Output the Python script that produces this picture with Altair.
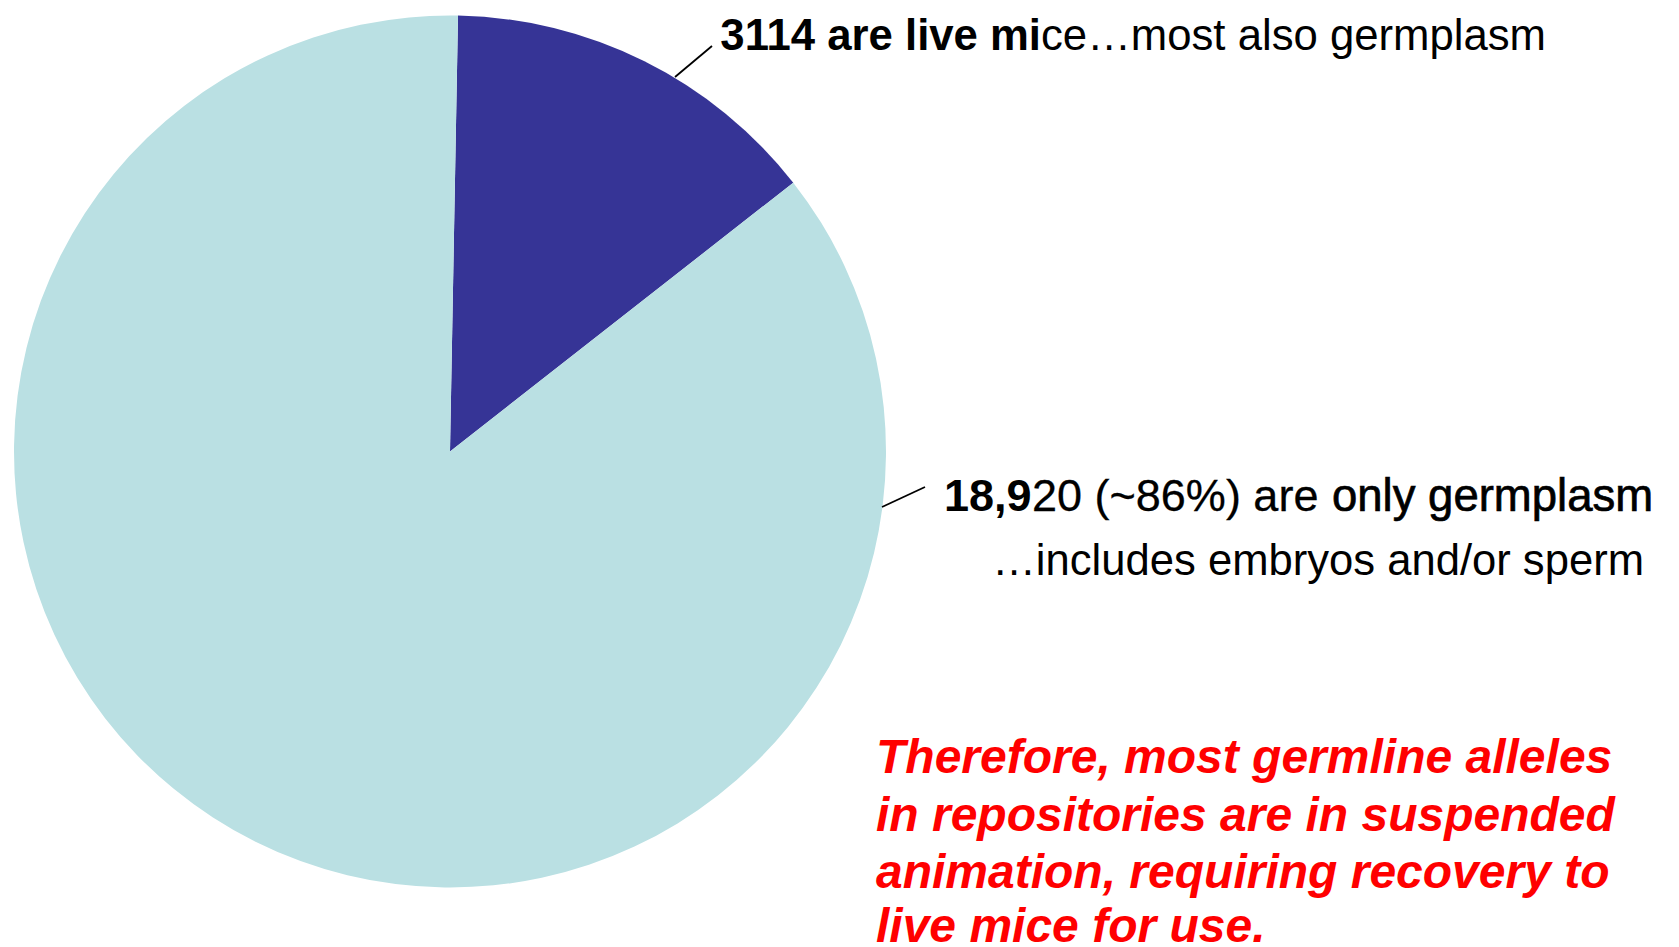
import math
import altair as alt
import pandas as pd

# ---- data ----
categories = ["live mice", "only germplasm"]
counts = [3114, 18920]
slice_order = [0, 1]
slice_colors = ["#363496", "#BAE0E3"]

label1_bold = "3114 are live mi"
label1_rest = "ce\u2026most also germplasm"
label2_bold = "18,9"
label2_mid = "20 (~86%) are"
label2_end = "only germplasm"
label2_line2 = "\u2026includes embryos and/or sperm"
note_lines = [
    "Therefore, most germline alleles",
    "in repositories are in suspended",
    "animation, requiring recovery to",
    "live mice for use.",
]

df = pd.DataFrame({"label": categories, "value": counts, "idx": slice_order})
total = sum(counts)
start = 0.0184

SANS = "Liberation Sans, Arial, sans-serif"

W, H = 1663, 939
CX, CY, R = 442, 443.5, 436

pie = alt.Chart(df).mark_arc(radius=R).encode(
    theta=alt.Theta("value:Q", stack=True,
                    scale=alt.Scale(domain=[0, total], range=[start, start + 2 * math.pi])),
    color=alt.Color("label:N", scale=alt.Scale(domain=categories, range=slice_colors), legend=None),
    order=alt.Order("idx:Q"),
    x=alt.value(CX),
    y=alt.value(CY),
)

one = alt.Data(values=[{"a": 1}])


def rule(x1, y1, x2, y2):
    return alt.Chart(one).mark_rule(color="black", strokeWidth=1.8).encode(
        x=alt.value(x1), y=alt.value(y1), x2=alt.value(x2), y2=alt.value(y2)
    )


def txt(s, x, y, size, weight="normal", align="left", color="black", font=SANS, italic=False, stroke=None):
    kw = dict(text=s, align=align, baseline="alphabetic", fontSize=size,
              fontWeight=weight, font=font, color=color)
    if italic:
        kw["fontStyle"] = "italic"
    if stroke:
        kw["stroke"] = color
        kw["strokeWidth"] = stroke
    return alt.Chart(one).mark_text(**kw).encode(x=alt.value(x), y=alt.value(y))


layers = [pie,
          rule(667, 69, 704, 38),
          rule(874, 499, 917, 479),
          txt(label1_bold, 1033, 42, 43.7, weight="bold", align="right"),
          txt(label1_rest, 1033, 42, 43.7),
          txt(label2_bold, 936, 503, 45, weight="bold"),
          txt(label2_mid, 1024, 503, 45, stroke=0.3),
          txt(label2_end, 1324, 503, 45.5, stroke=0.7),
          txt(label2_line2, 1636, 567, 43.6, align="right"),
          ]
note_y = [765, 823, 880, 934]
for line, yy in zip(note_lines, note_y):
    layers.append(txt(line, 868, yy, 48, weight="bold", color="#FF0000", italic=True))

chart = alt.layer(*layers).properties(
    width=W, height=H, autosize=alt.AutoSizeParams(type="none"), padding=0
).configure_view(stroke=None)

chart.save("out.html", embed_options={"renderer": "svg", "actions": False})
